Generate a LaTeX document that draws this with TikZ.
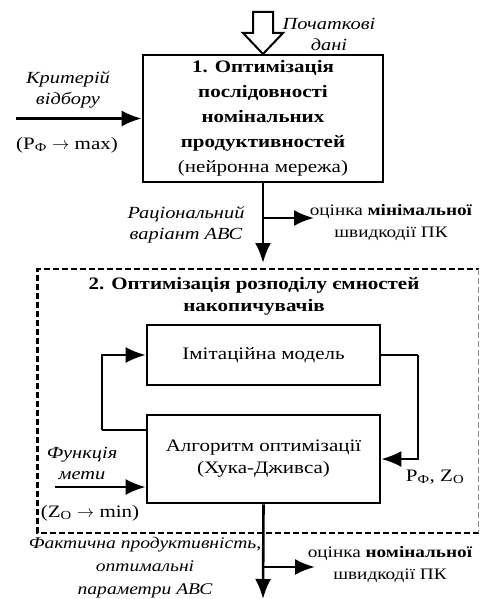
\documentclass[tikz,border=0pt]{standalone}
\usepackage{fontspec}
\setmainfont[FakeStretch=1.2]{Liberation Serif}
\usetikzlibrary{arrows.meta}
\tikzset{
  blk/.style={draw, line width=2.6pt, align=center, inner sep=0pt, font=\fontsize{17.5}{25}\selectfont},
  lab/.style={align=center, inner sep=0pt, font=\fontsize{17}{21}\selectfont\itshape},
  txt/.style={align=center, inner sep=0pt, font=\fontsize{17.5}{22}\selectfont},
  side/.style={align=center, inner sep=0pt, font=\fontsize{16}{22}\selectfont},
  arr/.style={line width=2.6pt, -{Latex[length=20pt,width=16pt]}},
  ln/.style={line width=2.6pt},
  dsh/.style={line width=2.4pt, dash pattern=on 6pt off 3pt}
}
\begin{document}
\begin{tikzpicture}[x=1pt,y=-1pt]
\useasboundingbox (0,0) rectangle (481,599);
% dashed frame
\coordinate (f1) at (37.5,269);
\coordinate (f2) at (478.5,269);
\coordinate (f3) at (478.5,533);
\coordinate (f4) at (37.5,533);
\draw[dsh] (f3) -- (f4) -- (f1) -- (f2);
\draw[dsh, line width=1pt, black!45] (f2) -- (f3);
% block 1
\node[blk, minimum width=240pt, minimum height=127pt] (b1) at (263,118.5)
  {\textbf{1. Оптимізація}\\ \textbf{послідовності}\\ \textbf{номінальних}\\ \textbf{продуктивностей}\\ (нейронна мережа)};
% hollow input arrow
\draw[line width=2pt, fill=white] (253,12) -- (273,12) -- (273,33) -- (283,33) -- (263,54) -- (243,33) -- (253,33) -- cycle;
\node[lab] (pd) at (329,34) {Початкові\\дані};
% left input
\coordinate (kin) at (16,118.5);
\draw[arr] (kin) -- (b1.west);
\node[lab] (kv) at (68,90) {Критерій\\відбору};
\node[txt] (pmax) at (67,145) {(P\textsubscript{Ф} $\rightarrow$ max)};
% down from block 1
\coordinate (d1) at (263,263);
\coordinate (br1) at (263,218);
\coordinate (br1e) at (314,218);
\draw[arr] (b1.south) -- (d1);
\draw[arr] (br1) -- (br1e);
\node[lab] (rv) at (186,225) {Раціональний\\варіант АВС};
\node[side] (om) at (391,222) {оцінка \textbf{мінімальної}\\швидкодії ПК};
% block 2 title
\node[txt, font=\fontsize{17.5}{22}\selectfont\bfseries] (t2) at (254,296) {2. Оптимізація розподілу ємностей\\накопичувачів};
% model and algorithm
\node[blk, minimum width=233pt, minimum height=60pt] (mod) at (263.5,355) {Імітаційна модель};
\node[blk, minimum width=233pt, minimum height=88pt, font=\fontsize{17.5}{22}\selectfont] (alg) at (263.5,459) {Алгоритм оптимізації\\(Хука-Дживса)};
% loops
\coordinate (ll1) at (102,430);
\draw[ln] (alg.west |- ll1) -- (ll1);
\draw[arr] (ll1) |- (mod.west);
\coordinate (rl1) at (418,355);
\draw[ln] (mod.east) -- (rl1);
\draw[arr] (rl1) |- (alg.east);
\node[txt] (pz) at (435,477) {P\textsubscript{Ф}, Z\textsubscript{О}};
% goal function
\coordinate (fin) at (55,487);
\draw[arr] (fin) -- (fin -| alg.west);
\node[lab] (fm) at (82,463) {Функція\\мети};
\node[txt] (zmin) at (90,513) {(Z\textsubscript{О} $\rightarrow$ min)};
% output
\coordinate (dout) at (263,599);
\coordinate (br2) at (263,567);
\coordinate (br2e) at (315,567);
\draw[arr] (alg.south) -- (dout);
\draw[arr] (br2) -- (br2e);
\node[lab, font=\fontsize{16.3}{23}\selectfont\itshape] (fp) at (145,568) {Фактична продуктивність,\\оптимальні\\параметри АВС};
\node[side] (on) at (390,564) {оцінка \textbf{номінальної}\\швидкодії ПК};
\end{tikzpicture}
\end{document}
